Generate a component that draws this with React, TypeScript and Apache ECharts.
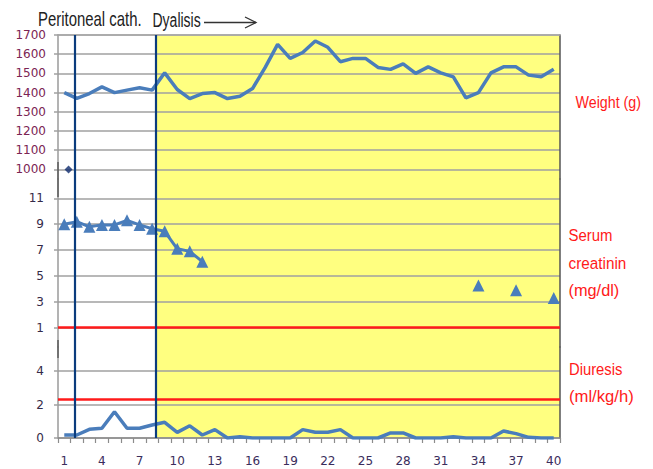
import React, { useEffect, useRef } from 'react';
import * as echarts from 'echarts';

// ---- data ----
const days = [1, 2, 3, 4, 5, 6, 7, 8, 9, 10, 11, 12, 13, 14, 15, 16, 17, 18, 19, 20,
  21, 22, 23, 24, 25, 26, 27, 28, 29, 30, 31, 32, 33, 34, 35, 36, 37, 38, 39, 40];
const xLabelDays = [1, 4, 7, 10, 13, 16, 19, 22, 25, 28, 31, 34, 37, 40];

const weight = [1400, 1370, 1395, 1430, 1400, 1413, 1425, 1413, 1503, 1416,
  1369, 1395, 1400, 1369, 1381, 1421, 1530, 1651, 1578, 1609,
  1669, 1636, 1561, 1578, 1578, 1531, 1521, 1550, 1500, 1534,
  1503, 1482, 1372, 1400, 1503, 1534, 1534, 1491, 1482, 1521];

const creatinine: (number | null)[] = [9.0, 9.2, 8.8, 8.95, 8.95, 9.3, 8.95, 8.65, 8.45, 7.1,
  6.9, 6.1, null, null, null, null, null, null, null, null,
  null, null, null, null, null, null, null, null, null, null,
  null, null, null, 4.25, null, null, 3.9, null, null, 3.3];

const diuresis = [0.18, 0.18, 0.52, 0.58, 1.57, 0.58, 0.58, 0.78, 0.94, 0.34,
  0.73, 0.18, 0.5, 0, 0.08, 0, 0, 0, 0, 0.5,
  0.34, 0.34, 0.5, 0, 0, 0, 0.3, 0.3, 0, 0,
  0, 0.08, 0, 0, 0, 0.42, 0.26, 0.04, 0, 0];

const extraWeightPoint = [1.34, 1000];

const weightTicks = [1000, 1100, 1200, 1300, 1400, 1500, 1600, 1700];
const creatinineTicks = [1, 3, 5, 7, 9, 11];
const diuresisTicks = [0, 2, 4];

const catheterDay = 1.8;
const dialysisLineDay = 8.25;
const dialysisShadeStart = 8.35;
const creatinineLimit = 1;
const diuresisLimit = 2.35;

const titleLeft = 'Peritoneal cath.';
const titleRight = 'Dyalisis';
const weightLabel = ['Weight (g)'];
const creatLabel = ['Serum', 'creatinin', '(mg/dl)'];
const diuresisLabel = ['Diuresis', '(ml/kg/h)'];

const BLUE = '#4a7dbb';
const NAVY = '#0b3c7d';
const RED = '#ff1a1a';
const GRIDC = '#a0a0a0';
const YELLOW = '#ffff80';

export default function App() {
  const ref = useRef<HTMLDivElement>(null);
  useEffect(() => {
    if (!ref.current) return;
    const chart = echarts.init(ref.current, undefined, { renderer: 'svg' });
    const xMin = 0.5;
    const xMax = 40.5;
    const tickBounds = days.map((d) => d - 0.5).concat([40.5]);

    const grids = [
      { left: 58, width: 502, top: 35, height: 144 },
      { left: 58, width: 502, top: 179, height: 168 },
      { left: 58, width: 502, top: 347, height: 91 },
    ];

    const xAxes = [
      {
        gridIndex: 0, type: 'value', min: xMin, max: xMax, position: 'top', z: 1.5,
        axisLine: { show: true, onZero: false, lineStyle: { color: '#a8a8a8', width: 1.5 } },
        axisTick: { show: false }, axisLabel: { show: false }, splitLine: { show: false },
      },
      {
        gridIndex: 1, type: 'value', min: xMin, max: xMax, show: false,
        axisLine: { onZero: false }, splitLine: { show: false },
      },
      {
        gridIndex: 2, type: 'value', min: xMin, max: xMax, z: 1.5,
        axisLine: { show: true, onZero: false, lineStyle: { color: '#8c8c8c', width: 1.5 } },
        axisTick: { show: true, length: 5, customValues: tickBounds, lineStyle: { color: '#8c8c8c', width: 1.2 } },
        axisLabel: {
          customValues: xLabelDays, margin: 17, fontSize: 12, fontFamily: 'DejaVu Sans', color: '#3a2d5c',
          formatter: (v: number) => String(v),
        },
        splitLine: { show: false },
      },
    ];

    const leftY = (gridIndex: number, min: number, max: number, ticks: number[], color: string, margin: number) => ({
      gridIndex, type: 'value', min, max, z: 1.5,
      axisLine: { show: true, onZero: false, lineStyle: { color: '#9a9a9a', width: 1.5 } },
      axisTick: { show: true, length: 4, customValues: ticks, lineStyle: { color: GRIDC, width: 1.5 } },
      axisLabel: {
        customValues: ticks, margin, fontSize: 12, fontFamily: 'DejaVu Sans', color,
        formatter: (v: number) => String(v),
      },
      splitLine: { show: true, lineStyle: { color: GRIDC, width: 1.5 } },
    });
    const rightY = (gridIndex: number) => ({
      gridIndex, type: 'value', min: 0, max: 1, position: 'right', z: 1.5,
      axisLine: { show: true, onZero: false, lineStyle: { color: '#555555', width: 1.5 } },
      axisTick: { show: false }, axisLabel: { show: false }, splitLine: { show: false },
    });

    const yAxes = [
      leftY(0, 950, 1700, weightTicks, '#7b2453', 12),
      leftY(1, -0.5, 12.5, creatinineTicks, '#352a48', 14),
      leftY(2, 0, 5.45, diuresisTicks, '#352a48', 14),
      rightY(0), rightY(1), rightY(2),
    ];

    const shade = {
      silent: true,
      itemStyle: { color: YELLOW },
      data: [[{ xAxis: dialysisShadeStart }, { xAxis: xMax }]],
    };
    const verticals = [
      { xAxis: catheterDay },
      { xAxis: dialysisLineDay },
    ];
    const mkLine = (extra: any[]) => ({
      silent: true,
      symbol: ['none', 'none'],
      label: { show: false },
      lineStyle: { color: NAVY, width: 2.2, type: 'solid' },
      data: [...extra, ...verticals],
    });

    const series: any[] = [
      {
        type: 'line', name: 'Weight', xAxisIndex: 0, yAxisIndex: 0,
        data: days.map((d, i) => [d, weight[i]]),
        showSymbol: false, symbol: 'none',
        lineStyle: { color: BLUE, width: 3.5 },
        itemStyle: { color: BLUE },
        markArea: shade,
        markLine: mkLine([]),
      },
      {
        type: 'scatter', name: 'Weight point', xAxisIndex: 0, yAxisIndex: 0,
        data: [extraWeightPoint],
        symbol: 'diamond', symbolSize: 8,
        itemStyle: { color: '#0e2a6e' },
      },
      {
        type: 'line', name: 'Serum creatinine', xAxisIndex: 1, yAxisIndex: 1,
        data: days.map((d, i) => [d, creatinine[i]]),
        connectNulls: false,
        showSymbol: true, symbol: 'triangle', symbolSize: 12,
        lineStyle: { color: BLUE, width: 3 },
        itemStyle: { color: BLUE },
        markArea: shade,
        markLine: mkLine([{ yAxis: creatinineLimit, lineStyle: { color: RED, width: 2.5 } }]),
      },
      {
        type: 'line', name: 'Diuresis', xAxisIndex: 2, yAxisIndex: 2,
        data: days.map((d, i) => [d, diuresis[i]]),
        showSymbol: false, symbol: 'none',
        lineStyle: { color: BLUE, width: 3.5 },
        itemStyle: { color: BLUE },
        markArea: shade,
        markLine: mkLine([{ yAxis: diuresisLimit, lineStyle: { color: RED, width: 2.5 } }]),
      },
    ];

    const labelText = (text: string, x: number, y: number, fill: string, size: number, sx: number) => ({
      type: 'text', x, y, scaleX: sx, silent: true,
      style: { text, fill, fontSize: size, fontFamily: 'Liberation Sans', verticalAlign: 'middle', align: 'left' },
    });

    const graphic: any[] = [
      labelText(titleLeft, 38, 19.5, '#222222', 21, 0.71),
      labelText(titleRight, 152.5, 19.5, '#222222', 21, 0.667),
      { type: 'line', silent: true, shape: { x1: 204, y1: 22.5, x2: 256, y2: 22.5 }, style: { stroke: '#333333', lineWidth: 1.3 } },
      { type: 'polyline', silent: true, shape: { points: [[245, 17], [256, 22.5], [245, 28]] }, style: { stroke: '#333333', lineWidth: 1.3, fill: 'none' } },
      { type: 'line', silent: true, z: 10, shape: { x1: 58, y1: 162, x2: 58, y2: 197 }, style: { stroke: '#333333', lineWidth: 1 } },
      { type: 'line', silent: true, z: 10, shape: { x1: 58, y1: 340, x2: 58, y2: 358 }, style: { stroke: '#333333', lineWidth: 1 } },
      labelText(weightLabel[0], 575.5, 102.5, RED, 17, 0.84),
      labelText(creatLabel[0], 568.5, 235, RED, 17, 0.88),
      labelText(creatLabel[1], 568.5, 262.5, RED, 17, 0.9),
      labelText(creatLabel[2], 568.5, 290, RED, 17, 0.96),
      labelText(diuresisLabel[0], 569, 369, RED, 17, 0.87),
      labelText(diuresisLabel[1], 569, 396.5, RED, 17, 0.98),
    ];

    chart.setOption({
      animation: false,
      backgroundColor: '#ffffff',
      grid: grids,
      xAxis: xAxes,
      yAxis: yAxes,
      series,
      graphic,
    } as any);
    return () => chart.dispose();
  }, []);
  return <div ref={ref} style={{ position: 'fixed', left: 0, top: 0, width: 653, height: 469, background: '#fff' }} />;
}
